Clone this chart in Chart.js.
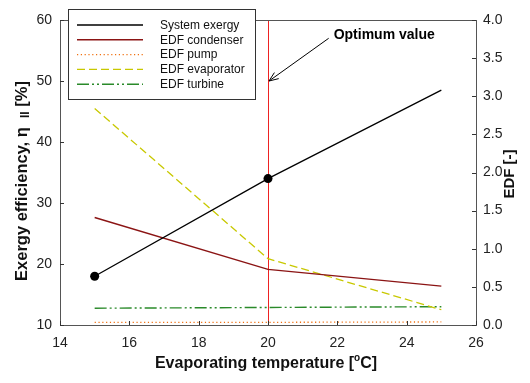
<!DOCTYPE html>
<html>
<head>
<meta charset="utf-8">
<script src="https://cdn.jsdelivr.net/npm/chart.js@4.4.1/dist/chart.umd.min.js"></script>
<style>
  html, body { margin: 0; padding: 0; background: #fff; }
  #wrap { width: 530px; height: 383px; }
</style>
</head>
<body>
<div id="wrap"><canvas id="chart" width="530" height="383"></canvas></div>
<script>
// data
const temps = [15, 20, 25];
const systemExergy = [18, 34, 48.5];
const edfCondenser = [1.41, 0.73, 0.51];
const edfPump = [0.035, 0.035, 0.04];
const edfEvaporator = [2.84, 0.87, 0.2];
const edfTurbine = [0.22, 0.23, 0.24];
const exergyMarkers = [4.5, 4.5, 0];

const optimumT = 20;
const optimumLabel = 'Optimum value';
const arrowFrom = [21.75, 57];
const arrowTo = [20, 50];

const xTicks = [14, 16, 18, 20, 22, 24, 26];
const yTicks = [10, 20, 30, 40, 50, 60];
const y2Ticks = [0, 0.5, 1, 1.5, 2, 2.5, 3, 3.5, 4];

const FONT = "'Liberation Sans', Arial, sans-serif";

function pts(vals) {
    return temps.map((t, i) => ({ x: t, y: vals[i] }));
}

const datasets = [
    { label: 'System exergy', data: pts(systemExergy), yAxisID: 'y', borderColor: '#000', backgroundColor: '#000',
      borderWidth: 1.3, pointRadius: exergyMarkers, pointBackgroundColor: '#000', pointBorderWidth: 0 },
    { label: 'EDF condenser', data: pts(edfCondenser), yAxisID: 'y2', borderColor: '#8b1414', borderWidth: 1.4, pointRadius: 0 },
    { label: 'EDF pump', data: pts(edfPump), yAxisID: 'y2', borderColor: '#f07010', borderWidth: 1.3, borderDash: [1.2, 2.6], pointRadius: 0 },
    { label: 'EDF evaporator', data: pts(edfEvaporator), yAxisID: 'y2', borderColor: '#c8c800', borderWidth: 1.3, borderDash: [8, 4], pointRadius: 0 },
    { label: 'EDF turbine', data: pts(edfTurbine), yAxisID: 'y2', borderColor: '#2a8a2a', borderWidth: 1.4, borderDash: [12, 3, 2, 3, 2, 3], pointRadius: 0 },
];

// frame, inward ticks, optimum line, arrow, legend and axis titles
const decorations = {
    id: 'decorations',
    beforeDatasetsDraw(chart) {
        const { ctx, chartArea: a, scales } = chart;
        ctx.save();
        const xv = scales.x.getPixelForValue(optimumT);
        ctx.strokeStyle = '#ee2222';
        ctx.lineWidth = 1;
        ctx.beginPath();
        ctx.moveTo(Math.round(xv) + 0.5, a.top);
        ctx.lineTo(Math.round(xv) + 0.5, a.bottom);
        ctx.stroke();
        ctx.restore();
    },
    afterDraw(chart) {
        const { ctx, chartArea: a, scales } = chart;
        ctx.save();
        // frame
        ctx.strokeStyle = '#555';
        ctx.lineWidth = 1;
        ctx.strokeRect(Math.round(a.left) + 0.5, Math.round(a.top) + 0.5,
            Math.round(a.right - a.left), Math.round(a.bottom - a.top));
        // inward ticks
        ctx.strokeStyle = '#333';
        ctx.beginPath();
        const tl = 4;
        xTicks.forEach(v => {
            const px = Math.round(scales.x.getPixelForValue(v)) + 0.5;
            ctx.moveTo(px, a.bottom); ctx.lineTo(px, a.bottom - tl);
        });
        yTicks.forEach(v => {
            const py = Math.round(scales.y.getPixelForValue(v)) + 0.5;
            ctx.moveTo(a.left, py); ctx.lineTo(a.left + tl, py);
        });
        y2Ticks.forEach(v => {
            const py = Math.round(scales.y2.getPixelForValue(v)) + 0.5;
            ctx.moveTo(a.right, py); ctx.lineTo(a.right - tl, py);
        });
        ctx.stroke();

        // arrow annotation
        const x0 = scales.x.getPixelForValue(arrowFrom[0]), y0 = scales.y.getPixelForValue(arrowFrom[1]);
        const x1 = scales.x.getPixelForValue(arrowTo[0]) + 1, y1 = scales.y.getPixelForValue(arrowTo[1]);
        ctx.strokeStyle = '#000';
        ctx.lineWidth = 1;
        ctx.beginPath();
        ctx.moveTo(x0, y0); ctx.lineTo(x1, y1);
        const ang = Math.atan2(y1 - y0, x1 - x0);
        const hl = 10, hw = 0.38;
        ctx.moveTo(x1 - hl * Math.cos(ang - hw), y1 - hl * Math.sin(ang - hw));
        ctx.lineTo(x1, y1);
        ctx.lineTo(x1 - hl * Math.cos(ang + hw), y1 - hl * Math.sin(ang + hw));
        ctx.stroke();
        ctx.fillStyle = '#000';
        ctx.font = 'bold 14px ' + FONT;
        ctx.textAlign = 'left';
        ctx.textBaseline = 'middle';
        ctx.fillText(optimumLabel, x0 + 5, y0 - 3);

        // legend
        const lx = 68, ly = 9, lw = 187, lh = 90;
        ctx.fillStyle = '#fff';
        ctx.fillRect(lx, ly, lw, lh);
        ctx.strokeStyle = '#333';
        ctx.strokeRect(lx + 0.5, ly + 0.5, lw, lh);
        ctx.font = '12px ' + FONT;
        ctx.textBaseline = 'middle';
        chart.data.datasets.forEach((ds, i) => {
            const yy = 25 + i * 14.8;
            ctx.strokeStyle = ds.borderColor;
            ctx.lineWidth = ds.borderWidth;
            ctx.setLineDash(ds.borderDash || []);
            ctx.beginPath();
            ctx.moveTo(77, yy); ctx.lineTo(143, yy);
            ctx.stroke();
            ctx.setLineDash([]);
            ctx.fillStyle = '#111';
            ctx.fillText(ds.label, 160, yy + 0.5);
        });

        // axis titles
        ctx.fillStyle = '#111';
        // x title with superscript
        const xa = 'Evaporating temperature [', xb = 'o', xc = 'C]';
        ctx.font = 'bold 16px ' + FONT;
        const wa = ctx.measureText(xa).width, wc = ctx.measureText(xc).width;
        ctx.font = 'bold 10px ' + FONT;
        const wb = ctx.measureText(xb).width;
        let sx = 266 - (wa + wb + wc) / 2;
        const sy = 364;
        ctx.textAlign = 'left';
        ctx.font = 'bold 16px ' + FONT;
        ctx.fillText(xa, sx, sy);
        ctx.font = 'bold 10px ' + FONT;
        ctx.fillText(xb, sx + wa, sy - 6);
        ctx.font = 'bold 16px ' + FONT;
        ctx.fillText(xc, sx + wa + wb, sy);

        // left title with subscript
        ctx.save();
        ctx.translate(22, 181);
        ctx.rotate(-Math.PI / 2);
        const la = 'Exergy efficiency, \u03b7  ', lb = 'II', lc = ' [%]';
        ctx.font = 'bold 16.5px ' + FONT;
        const la_w = ctx.measureText(la).width, lc_w = ctx.measureText(lc).width;
        ctx.font = 'bold 12px ' + FONT;
        const lb_w = ctx.measureText(lb).width;
        let tx = -(la_w + lb_w + lc_w) / 2;
        ctx.font = 'bold 16.5px ' + FONT;
        ctx.fillText(la, tx, 0);
        ctx.font = 'bold 12px ' + FONT;
        ctx.fillText(lb, tx + la_w, 4);
        ctx.font = 'bold 16.5px ' + FONT;
        ctx.fillText(lc, tx + la_w + lb_w, 0);
        ctx.restore();

        // right title
        ctx.save();
        ctx.translate(510, 174);
        ctx.rotate(-Math.PI / 2);
        ctx.textAlign = 'center';
        ctx.font = 'bold 15px ' + FONT;
        ctx.fillText('EDF [-]', 0, 0);
        ctx.restore();

        ctx.restore();
    }
};

const tickFont = { family: FONT, size: 14 };

new Chart(document.getElementById('chart'), {
    type: 'line',
    data: { datasets },
    options: {
        responsive: false,
        animation: false,
        layout: { padding: { top: 20, left: 0, right: 0, bottom: 0 } },
        plugins: { legend: { display: false }, tooltip: { enabled: false } },
        scales: {
            x: {
                type: 'linear', min: 14, max: 26,
                afterBuildTicks: s => { s.ticks = xTicks.map(v => ({ value: v })); },
                afterFit: s => { s.height = 58; },
                grid: { display: false, drawTicks: false },
                border: { display: false },
                ticks: { font: tickFont, color: '#222', padding: 10 }
            },
            y: {
                type: 'linear', position: 'left', min: 10, max: 60,
                afterBuildTicks: s => { s.ticks = yTicks.map(v => ({ value: v })); },
                afterFit: s => { s.width = 60; },
                grid: { display: false, drawTicks: false },
                border: { display: false },
                ticks: { font: tickFont, color: '#222', padding: 8 }
            },
            y2: {
                type: 'linear', position: 'right', min: 0, max: 4,
                afterBuildTicks: s => { s.ticks = y2Ticks.map(v => ({ value: v })); },
                afterFit: s => { s.width = 54; },
                grid: { display: false, drawTicks: false },
                border: { display: false },
                ticks: { font: tickFont, color: '#222', padding: 7, callback: v => v.toFixed(1) }
            }
        }
    },
    plugins: [decorations]
});
</script>
</body>
</html>
